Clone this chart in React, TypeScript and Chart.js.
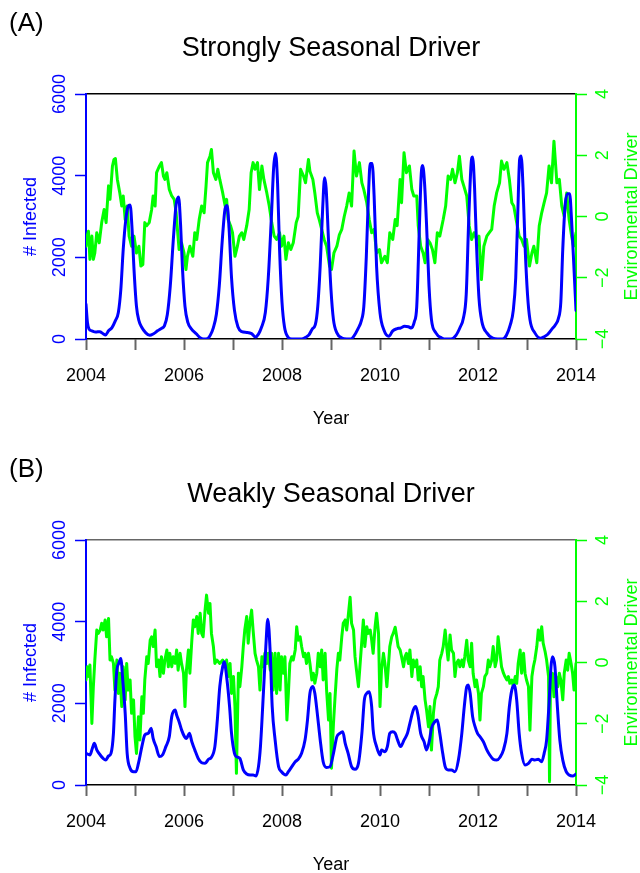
import React, { useEffect, useRef } from "react";
import { Chart, registerables } from "chart.js";

Chart.register(...registerables);

const FONT = '"Liberation Sans", Arial, Helvetica, sans-serif';
const BLUE = "#0000ff";
const GREEN = "#00ff00";

// ---- axis ticks / labels ----
const yearTicks = [2004, 2005, 2006, 2007, 2008, 2009, 2010, 2011, 2012, 2013, 2014];
const yearLabels = ["2004", "", "2006", "", "2008", "", "2010", "", "2012", "", "2014"];
const infectedTicks = [0, 2000, 4000, 6000];
const infectedLabels = ["0", "2000", "4000", "6000"];
const driverTicks = [-4, -2, 0, 2, 4];
const driverLabels = ["\u22124", "\u22122", "0", "2", "4"];

const xTitle = "Year";
const leftTitle = "# Infected";
const rightTitle = "Environmental Driver";
const panelLabels = ["(A)", "(B)"];
const panelTitles = ["Strongly Seasonal Driver", "Weakly Seasonal Driver"];

// ---- Panel A: strongly seasonal ----
const strongInfYears = [
  2004.0, 2004.03, 2004.06, 2004.12, 2004.2, 2004.28, 2004.35, 2004.4, 2004.46, 2004.53, 2004.6, 2004.66, 2004.71, 2004.76, 2004.81, 2004.86, 2004.9, 2004.94, 2004.98,
  2005.03, 2005.08, 2005.14, 2005.22, 2005.3, 2005.38, 2005.46, 2005.54, 2005.6, 2005.66, 2005.72, 2005.78, 2005.84, 2005.89, 2005.93, 2005.97,
  2006.02, 2006.08, 2006.15, 2006.25, 2006.32, 2006.4, 2006.48, 2006.54, 2006.6, 2006.66, 2006.72, 2006.78, 2006.84, 2006.88, 2006.92, 2006.97,
  2007.03, 2007.1, 2007.18, 2007.28, 2007.38, 2007.46, 2007.52, 2007.58, 2007.66, 2007.72, 2007.78, 2007.83, 2007.87, 2007.91, 2007.95,
  2008.0, 2008.05, 2008.12, 2008.2, 2008.3, 2008.4, 2008.48, 2008.55, 2008.62, 2008.68, 2008.73, 2008.78, 2008.83, 2008.87, 2008.9, 2008.95,
  2009.0, 2009.05, 2009.12, 2009.22, 2009.32, 2009.4, 2009.46, 2009.55, 2009.62, 2009.67, 2009.72, 2009.77, 2009.8, 2009.84, 2009.88, 2009.93,
  2010.0, 2010.08, 2010.18, 2010.26, 2010.34, 2010.42, 2010.5, 2010.58, 2010.64, 2010.7, 2010.75, 2010.8, 2010.84, 2010.87, 2010.91, 2010.95,
  2011.0, 2011.05, 2011.14, 2011.26, 2011.35, 2011.45, 2011.55, 2011.64, 2011.7, 2011.76, 2011.81, 2011.86, 2011.89, 2011.93, 2011.97,
  2012.02, 2012.08, 2012.18, 2012.3, 2012.4, 2012.5, 2012.58, 2012.66, 2012.72, 2012.77, 2012.81, 2012.85, 2012.88, 2012.92, 2012.96,
  2013.01, 2013.06, 2013.16, 2013.28, 2013.36, 2013.42, 2013.5, 2013.58, 2013.64, 2013.69, 2013.73, 2013.78, 2013.83, 2013.87, 2013.91, 2013.96, 2014.0,
];
const strongInfValues = [
  850, 400, 250, 200, 170, 180, 130, 100, 200, 280, 450, 650, 1200, 2200, 2900, 3250, 3280, 2700, 1700,
  800, 450, 280, 150, 90, 130, 200, 260, 320, 600, 1300, 2400, 3300, 3480, 2800, 1700,
  800, 400, 250, 130, 40, 0, 10, 100, 280, 600, 1300, 2400, 3200, 3270, 2700, 1500,
  700, 300, 180, 160, 130, 50, 120, 280, 650, 1500, 2900, 4200, 4550, 3800, 2200,
  900, 300, 50, 0, 0, 0, 40, 100, 250, 350, 800, 1800, 3200, 3950, 3700, 2400,
  1200, 475, 150, 25, 0, 0, 60, 250, 450, 800, 2000, 3700, 4300, 4300, 3500, 1780,
  640, 220, 65, 200, 250, 270, 310, 300, 270, 420, 800, 2600, 4000, 4250, 3800, 2800,
  1300, 475, 150, 25, 0, 0, 90, 300, 500, 1100, 2900, 4300, 4460, 3700, 2300,
  1000, 420, 150, 20, 0, 0, 90, 350, 700, 1500, 3000, 4400, 4480, 3700, 2300,
  1100, 475, 150, 20, 60, 110, 230, 350, 500, 900, 2200, 3300, 3560, 3560, 2900, 1700, 700,
];

const strongDrvYears = [
  2004.0, 2004.03, 2004.05, 2004.08, 2004.12, 2004.15, 2004.18, 2004.22, 2004.27, 2004.32, 2004.37, 2004.41, 2004.46, 2004.49, 2004.54, 2004.57, 2004.6, 2004.64, 2004.69, 2004.73, 2004.76, 2004.8, 2004.84, 2004.88, 2004.93, 2004.98,
  2005.03, 2005.08, 2005.12, 2005.16, 2005.2, 2005.24, 2005.29, 2005.34, 2005.37, 2005.41, 2005.44, 2005.5, 2005.54, 2005.58, 2005.61, 2005.65, 2005.7, 2005.75, 2005.8, 2005.84, 2005.86, 2005.9, 2005.95,
  2006.0, 2006.04, 2006.07, 2006.12, 2006.18, 2006.22, 2006.26, 2006.31, 2006.36, 2006.41, 2006.45, 2006.48, 2006.53, 2006.56, 2006.6, 2006.65, 2006.69, 2006.73, 2006.79, 2006.84, 2006.87, 2006.9, 2006.95, 2006.99,
  2007.04, 2007.09, 2007.13, 2007.18, 2007.22, 2007.28, 2007.33, 2007.37, 2007.41, 2007.45, 2007.5, 2007.54, 2007.59, 2007.63, 2007.69, 2007.74, 2007.79, 2007.84, 2007.89, 2007.95, 2007.99,
  2008.04, 2008.08, 2008.13, 2008.18, 2008.23, 2008.29, 2008.33, 2008.38, 2008.44, 2008.48, 2008.54, 2008.57, 2008.63, 2008.67, 2008.72, 2008.76, 2008.81, 2008.86, 2008.91, 2008.97,
  2009.01, 2009.06, 2009.12, 2009.17, 2009.22, 2009.27, 2009.32, 2009.37, 2009.42, 2009.47, 2009.52, 2009.58, 2009.63, 2009.67, 2009.73, 2009.78, 2009.83, 2009.88, 2009.93, 2009.99,
  2010.03, 2010.1, 2010.15, 2010.2, 2010.26, 2010.31, 2010.35, 2010.41, 2010.44, 2010.49, 2010.54, 2010.6, 2010.65, 2010.69, 2010.75, 2010.78, 2010.83, 2010.88, 2010.92, 2010.97,
  2011.02, 2011.07, 2011.12, 2011.17, 2011.22, 2011.29, 2011.34, 2011.39, 2011.44, 2011.48, 2011.53, 2011.58, 2011.62, 2011.67, 2011.71, 2011.77, 2011.82, 2011.87, 2011.92, 2011.97,
  2012.02, 2012.07, 2012.12, 2012.18, 2012.23, 2012.28, 2012.33, 2012.38, 2012.44, 2012.48, 2012.53, 2012.59, 2012.64, 2012.69, 2012.73, 2012.79, 2012.84, 2012.89, 2012.94, 2012.99,
  2013.05, 2013.1, 2013.14, 2013.2, 2013.25, 2013.3, 2013.35, 2013.4, 2013.45, 2013.5, 2013.55, 2013.61, 2013.66, 2013.71, 2013.76, 2013.81, 2013.86, 2013.91, 2013.95, 2014.0,
];
const strongDrvValues = [
  -0.97, -0.6, -0.48, -1.4, -0.64, -1.4, -1.19, -0.53, -0.86, -0.2, 0.23, -0.2, 1.0, 0.56, 1.65, 1.86, 1.89, 1.21, 0.77, 0.34, 0.67, -0.1, 0.34, -0.64, -0.97, -0.64,
  -1.19, -0.97, -1.62, -1.57, -0.2, -0.3, -0.2, 0.23, 0.67, 0.34, 1.43, 1.65, 1.76, 1.32, 1.21, 1.43, 0.88, 0.67, 0.56, 0.12, -0.3, -1.08, -0.86,
  -1.19, -1.73, -1.3, -0.97, -1.3, -0.53, -0.75, -0.1, 0.34, 0.12, 1.0, 1.76, 1.97, 2.19, 1.43, 1.21, 1.54, 1.21, 0.77, 0.34, 0.56, -0.1, -0.3, -0.53,
  -1.3, -0.97, -0.64, -0.53, -0.75, -0.3, 0.23, 1.43, 1.76, 1.54, 1.76, 0.88, 1.65, 1.21, 0.77, 0.34, -0.2, -0.64, -0.75, -0.53, -0.97,
  -0.64, -1.4, -0.86, -1.08, -0.86, -0.2, 0.0, 1.54, 1.32, 1.1, 1.86, 1.48, 1.21, 0.77, 0.12, -0.1, -0.42, -0.75, -0.97, -1.62,
  -1.73, -1.19, -0.97, -0.6, -0.42, 0.0, 0.34, 0.77, 0.34, 2.14, 1.32, 1.76, 1.1, 0.88, 0.45, -0.1, -0.53, -0.42, -1.19, -1.08,
  -1.51, -1.3, -1.51, -0.53, -0.75, -0.1, -0.3, 1.21, 0.45, 2.08, 1.43, 1.65, 0.88, 0.67, 0.67, -0.3, -0.97, -1.19, -1.51, -0.75,
  -0.86, -1.08, -1.51, -0.53, -0.64, -0.1, 0.34, 1.32, 1.21, 1.54, 1.1, 1.43, 1.97, 1.21, 1.0, 0.67, -0.3, -0.75, -0.53, -0.75,
  -0.64, -2.06, -0.97, -0.64, -0.53, -0.42, 0.34, 0.77, 1.1, 1.81, 1.54, 1.76, 1.21, 0.45, 0.34, -0.2, -0.64, -0.75, -0.97, -0.75,
  -1.62, -1.19, -0.97, -1.51, -0.3, 0.12, 0.45, 0.77, 1.65, 1.1, 2.46, 1.1, 1.21, 0.34, 0.0, 0.77, -0.1, -0.64, -0.97, -0.53,
];

// ---- Panel B: weakly seasonal ----
const weakInfYears = [
  2004.0, 2004.08, 2004.13, 2004.17, 2004.22, 2004.29, 2004.35, 2004.4, 2004.46, 2004.51, 2004.56, 2004.59, 2004.63, 2004.67, 2004.71, 2004.75, 2004.8, 2004.84, 2004.9, 2004.97,
  2005.02, 2005.07, 2005.14, 2005.2, 2005.27, 2005.33, 2005.37, 2005.43, 2005.5, 2005.56, 2005.63, 2005.7, 2005.75, 2005.82, 2005.85, 2005.9, 2005.95,
  2006.01, 2006.05, 2006.11, 2006.16, 2006.22, 2006.29, 2006.36, 2006.43, 2006.5, 2006.56, 2006.63, 2006.68, 2006.73, 2006.79, 2006.82, 2006.87, 2006.93, 2006.97,
  2007.03, 2007.07, 2007.14, 2007.21, 2007.28, 2007.35, 2007.41, 2007.47, 2007.52, 2007.56, 2007.62, 2007.67, 2007.71, 2007.76, 2007.8, 2007.86, 2007.93, 2007.99,
  2008.08, 2008.13, 2008.2, 2008.27, 2008.33, 2008.4, 2008.47, 2008.52, 2008.57, 2008.63, 2008.67, 2008.72, 2008.78, 2008.84, 2008.91, 2008.98,
  2009.05, 2009.12, 2009.18, 2009.24, 2009.29, 2009.35, 2009.42, 2009.49, 2009.56, 2009.63, 2009.68, 2009.73, 2009.78, 2009.83, 2009.86, 2009.93,
  2010.0, 2010.03, 2010.1, 2010.15, 2010.2, 2010.26, 2010.31, 2010.36, 2010.42, 2010.49, 2010.56, 2010.61, 2010.68, 2010.73, 2010.78, 2010.83, 2010.9, 2010.95,
  2011.01, 2011.05, 2011.12, 2011.17, 2011.22, 2011.28, 2011.33, 2011.39, 2011.46, 2011.53, 2011.6, 2011.67, 2011.72, 2011.77, 2011.8, 2011.84, 2011.89, 2011.94, 2011.99,
  2012.04, 2012.11, 2012.18, 2012.24, 2012.31, 2012.38, 2012.45, 2012.52, 2012.59, 2012.64, 2012.69, 2012.74, 2012.79, 2012.84, 2012.89, 2012.96,
  2013.03, 2013.1, 2013.16, 2013.23, 2013.3, 2013.35, 2013.4, 2013.45, 2013.49, 2013.52, 2013.57, 2013.62, 2013.67, 2013.73, 2013.8, 2013.86, 2013.93, 2014.0,
];
const weakInfValues = [
  775, 735, 900, 1020, 860, 735, 650, 610, 710, 775, 1265, 2080, 2815, 2980, 3100, 2570, 1755, 775, 410, 325,
  325, 530, 940, 1225, 1265, 1390, 1140, 940, 695, 735, 940, 1185, 1675, 1835, 1715, 1550, 1350,
  1185, 1140, 1265, 1060, 860, 650, 545, 530, 630, 680, 940, 1590, 2410, 2900, 3020, 2650, 1920, 1265,
  775, 695, 650, 370, 270, 245, 245, 220, 450, 940, 2245, 3390, 4060, 3225, 1920, 1100, 450, 325,
  245, 325, 450, 570, 630, 775, 1100, 1590, 2245, 2410, 2245, 1755, 1100, 570, 430, 450,
  775, 1185, 1265, 1305, 1020, 775, 450, 385, 530, 1265, 2080, 2245, 2285, 1920, 1350, 940,
  735, 860, 815, 940, 1265, 1305, 1265, 1100, 940, 1100, 1265, 1510, 1835, 1920, 1675, 1265, 1060, 860,
  1100, 1390, 1550, 1590, 1265, 775, 450, 370, 370, 325, 610, 1265, 1920, 2410, 2450, 2245, 1675, 1430, 1265,
  1185, 1060, 860, 735, 630, 610, 680, 860, 1265, 1920, 2325, 2450, 2080, 1265, 775, 490,
  530, 630, 610, 630, 570, 775, 1100, 2000, 2900, 3140, 2900, 1920, 1100, 610, 325, 245, 220, 270,
];

const weakDrvYears = [
  2004.0, 2004.03, 2004.06, 2004.08, 2004.12, 2004.15, 2004.18, 2004.22, 2004.25, 2004.29, 2004.32, 2004.35, 2004.39, 2004.42, 2004.46, 2004.49, 2004.52, 2004.56, 2004.59, 2004.63, 2004.66, 2004.69, 2004.73, 2004.76, 2004.8, 2004.83, 2004.86, 2004.9, 2004.93, 2004.97,
  2005.0, 2005.03, 2005.07, 2005.1, 2005.14, 2005.17, 2005.2, 2005.24, 2005.27, 2005.31, 2005.34, 2005.37, 2005.41, 2005.44, 2005.48, 2005.51, 2005.54, 2005.58, 2005.61, 2005.65, 2005.68, 2005.71, 2005.75, 2005.78, 2005.82, 2005.85, 2005.88, 2005.92, 2005.95, 2005.99,
  2006.02, 2006.05, 2006.09, 2006.12, 2006.16, 2006.19, 2006.22, 2006.26, 2006.29, 2006.33, 2006.36, 2006.39, 2006.43, 2006.46, 2006.5, 2006.53, 2006.56, 2006.6, 2006.63, 2006.67, 2006.73, 2006.79, 2006.84, 2006.87, 2006.9, 2006.94, 2006.97,
  2007.01, 2007.04, 2007.07, 2007.11, 2007.14, 2007.18, 2007.21, 2007.24, 2007.28, 2007.31, 2007.35, 2007.38, 2007.41, 2007.45, 2007.48, 2007.52, 2007.55, 2007.59, 2007.62, 2007.65, 2007.69, 2007.72, 2007.76, 2007.79, 2007.82, 2007.86, 2007.89, 2007.93, 2007.96, 2007.99,
  2008.03, 2008.06, 2008.1, 2008.13, 2008.16, 2008.2, 2008.23, 2008.27, 2008.3, 2008.33, 2008.37, 2008.4, 2008.44, 2008.47, 2008.5, 2008.54, 2008.57, 2008.61, 2008.64, 2008.67, 2008.71, 2008.74, 2008.78, 2008.81, 2008.84, 2008.88, 2008.91, 2008.95, 2008.98,
  2009.01, 2009.05, 2009.08, 2009.12, 2009.15, 2009.18, 2009.22, 2009.25, 2009.29, 2009.32, 2009.35, 2009.39, 2009.42, 2009.46, 2009.49, 2009.52, 2009.56, 2009.59, 2009.63, 2009.66, 2009.69, 2009.73, 2009.76, 2009.8, 2009.83, 2009.86, 2009.9, 2009.93, 2009.97,
  2010.0, 2010.03, 2010.07, 2010.1, 2010.14, 2010.17, 2010.2, 2010.24, 2010.27, 2010.31, 2010.34, 2010.37, 2010.41, 2010.44, 2010.48, 2010.51, 2010.54, 2010.58, 2010.61, 2010.65, 2010.68, 2010.71, 2010.75, 2010.78, 2010.82, 2010.85, 2010.88, 2010.92, 2010.95, 2010.99,
  2011.02, 2011.05, 2011.09, 2011.12, 2011.16, 2011.19, 2011.22, 2011.26, 2011.29, 2011.33, 2011.36, 2011.39, 2011.43, 2011.46, 2011.5, 2011.53, 2011.56, 2011.6, 2011.63, 2011.67, 2011.7, 2011.73, 2011.77, 2011.8, 2011.84, 2011.87, 2011.9, 2011.94, 2011.97,
  2012.01, 2012.04, 2012.07, 2012.11, 2012.14, 2012.18, 2012.21, 2012.24, 2012.28, 2012.31, 2012.35, 2012.38, 2012.41, 2012.45, 2012.48, 2012.52, 2012.55, 2012.59, 2012.62, 2012.65, 2012.69, 2012.72, 2012.76, 2012.79, 2012.82, 2012.86, 2012.89, 2012.93, 2012.96, 2012.99,
  2013.03, 2013.06, 2013.1, 2013.13, 2013.16, 2013.2, 2013.23, 2013.27, 2013.3, 2013.33, 2013.37, 2013.4, 2013.44, 2013.46, 2013.48, 2013.52, 2013.55, 2013.59, 2013.63, 2013.66, 2013.69, 2013.73, 2013.76, 2013.8, 2013.83, 2013.86, 2013.9, 2013.93, 2013.96, 2014.0,
];
const weakDrvValues = [
  -0.57, -0.14, -0.46, -0.08, -1.99, -0.79, 0.08, 1.06, 0.95, 1.06, 1.28, 1.06, 1.39, 0.84, 1.44, 0.08, 0.19, -0.03, -0.9, 0.08, -1.01, -0.35, -1.44, -0.14, -1.22, -0.03, -0.9, -0.57, -1.66, -1.22,
  -2.42, -2.97, -1.77, -2.53, -1.12, -1.66, -0.57, 0.19, -0.03, 0.73, 0.84, 0.52, 1.06, -0.14, 0.08, -0.46, 0.19, -0.35, 0.08, 0.41, -0.14, 0.3, -0.14, 0.19, -0.03, 0.41, -0.25, 0.3, -0.03, -0.35,
  -1.44, -0.25, 0.41, -0.35, 0.73, 1.39, 1.17, 1.5, 0.95, 1.61, 0.95, 0.84, 1.71, 2.2, 1.61, 1.93, 0.95, 0.52, -0.03, 0.08, -0.03, 0.08, -0.14, 0.08, -0.46, -0.03, -1.01,
  -0.46, -1.44, -3.62, -0.35, -0.79, -0.14, 0.52, 1.06, 1.5, 0.63, 1.39, 1.71, 1.06, 0.3, 0.08, -0.14, -0.9, 0.19, -0.14, 0.3, -0.03, 0.3, -0.25, 0.3, -0.9, 0.3, -1.01, 0.3, -0.9, 0.19,
  -0.35, 0.19, -1.88, -1.01, -0.03, 0.19, 0.08, 0.41, 1.17, 0.73, 0.84, 0.52, 0.19, 0.3, -0.03, 0.3, -0.03, -0.57, -0.35, -0.68, -0.35, 0.3, -0.14, 0.41, -0.57, 0.3, -0.9, -1.88, -1.01,
  -3.45, -2.0, -1.2, -0.2, 0.3, 0.08, 0.84, 1.28, 1.39, 1.06, 1.5, 2.13, 1.28, 1.06, 0.19, -0.25, -0.79, -0.14, 0.73, 1.39, 0.52, 1.17, 0.95, 1.06, 0.73, 0.3, 1.17, 1.61, 0.95,
  -1.44, -0.25, 0.3, -0.03, -0.79, -0.14, 0.52, 0.84, 0.95, 1.15, 0.84, 0.52, 0.41, 0.19, -0.14, 0.19, 0.3, -0.03, 0.41, -0.46, 0.08, -0.14, 0.08, -0.57, -0.14, -0.79, -0.46, -1.22, -1.55, -2.1,
  -1.44, -2.86, -1.66, -1.22, -1.01, -0.79, 0.08, 0.3, 0.52, 1.06, 0.52, 0.08, 0.9, 0.41, 0.3, -0.46, -0.03, 0.08, -0.14, 0.08, -0.14, 0.19, 0.73, 0.08, -0.14, 0.63, -0.35, -0.79, -0.57,
  -1.01, -1.88, -1.01, -0.79, -0.46, -0.35, 0.08, -0.14, 0.08, 0.52, -0.14, 0.08, 0.84, 0.3, -0.14, -0.35, -0.46, -0.57, -0.46, -0.68, -0.57, -0.79, -0.46, -0.68, -0.03, 0.41, -0.35, 0.3, -0.35, -0.57,
  -0.79, -2.21, -0.46, -0.14, 0.08, 0.52, 1.06, 0.73, 1.17, 0.63, 0.35, 0.08, -0.46, -3.89, -0.46, -0.35, -1.12, -0.46, -0.79, -0.35, -0.57, -1.22, -0.35, 0.08, -0.25, 0.3, -0.03, -0.35, -0.9, -0.03,
];

function zip(xs: number[], ys: number[]) {
  return xs.map((x, i) => ({ x, y: ys[i] }));
}

const textPlugin = {
  id: "panelText",
  afterDraw(chart: any, _args: any, opts: any) {
    const ctx = chart.ctx as CanvasRenderingContext2D;
    const area = chart.chartArea;
    const yL = chart.scales.y;
    const yR = chart.scales.y2;
    const midX = (area.left + area.right) / 2;
    const midY = (area.top + area.bottom) / 2;
    ctx.save();
    ctx.fillStyle = "#000";
    ctx.textBaseline = "alphabetic";
    ctx.font = `26px ${FONT}`;
    ctx.textAlign = "left";
    ctx.fillText(opts.label, 9, 31);
    ctx.font = `27px ${FONT}`;
    ctx.textAlign = "center";
    ctx.fillText(opts.title, midX, 56);

    ctx.font = `18px ${FONT}`;
    ctx.textBaseline = "middle";
    ctx.fillText(xTitle, midX, area.bottom + 80);

    const rot = (text: string, x: number, y: number, color: string) => {
      ctx.save();
      ctx.translate(x, y);
      ctx.rotate(-Math.PI / 2);
      ctx.fillStyle = color;
      ctx.textAlign = "center";
      ctx.textBaseline = "middle";
      ctx.fillText(text, 0, 0);
      ctx.restore();
    };
    infectedTicks.forEach((v, i) => rot(infectedLabels[i], area.left - 26, yL.getPixelForValue(v), BLUE));
    rot(leftTitle, area.left - 55, midY, BLUE);
    driverTicks.forEach((v, i) => rot(driverLabels[i], area.right + 27, yR.getPixelForValue(v), GREEN));
    rot(rightTitle, area.right + 56, midY, GREEN);
    ctx.restore();
  },
};

function makeConfig(panel: number, height: number, inf: { x: number; y: number }[], drv: { x: number; y: number }[], topColor: string): any {
  return {
    type: "line",
    data: {
      datasets: [
        {
          label: leftTitle,
          data: inf,
          xAxisID: "x",
          yAxisID: "y",
          borderColor: BLUE,
          borderWidth: 3,
          pointRadius: 0,
          cubicInterpolationMode: "monotone",
          borderJoinStyle: "round",
          borderCapStyle: "round",
          order: 0,
        },
        {
          label: rightTitle,
          data: drv,
          xAxisID: "x",
          yAxisID: "y2",
          borderColor: GREEN,
          borderWidth: 3,
          pointRadius: 0,
          tension: 0,
          borderJoinStyle: "round",
          borderCapStyle: "round",
          order: 1,
        },
      ],
    },
    options: {
      responsive: false,
      animation: false,
      events: [],
      layout: { padding: { top: 94, left: 0, right: 0, bottom: 0 } },
      plugins: {
        legend: { display: false },
        tooltip: { enabled: false },
        title: { display: false },
        panelText: { label: panelLabels[panel], title: panelTitles[panel] },
      },
      scales: {
        x: {
          type: "linear",
          position: "bottom",
          min: 2004,
          max: 2014,
          afterBuildTicks: (s: any) => {
            s.ticks = yearTicks.map((v) => ({ value: v }));
          },
          ticks: {
            autoSkip: false,
            maxRotation: 0,
            minRotation: 0,
            padding: 15,
            color: "#000",
            font: { family: FONT, size: 18 },
            callback: (_v: any, i: number) => yearLabels[i],
          },
          grid: { drawOnChartArea: false, drawTicks: true, tickLength: 11, tickColor: "#666666", tickWidth: 2 },
          border: { display: true, color: "#000", width: 1.5 },
          afterFit: (s: any) => {
            s.height = height - 339;
          },
        },
        xTop: {
          type: "linear",
          position: "top",
          min: 2004,
          max: 2014,
          ticks: { display: false },
          grid: { drawOnChartArea: false, drawTicks: false },
          border: { display: true, color: topColor, width: 1.5 },
          afterFit: (s: any) => {
            s.height = 0;
          },
        },
        y: {
          type: "linear",
          position: "left",
          min: 0,
          max: 6000,
          afterBuildTicks: (s: any) => {
            s.ticks = infectedTicks.map((v) => ({ value: v }));
          },
          ticks: { display: false },
          grid: { drawOnChartArea: false, drawTicks: true, tickLength: 11, tickColor: BLUE, tickWidth: 1.5 },
          border: { display: true, color: BLUE, width: 2 },
          afterFit: (s: any) => {
            s.width = 86;
          },
        },
        y2: {
          type: "linear",
          position: "right",
          min: -4,
          max: 4,
          afterBuildTicks: (s: any) => {
            s.ticks = driverTicks.map((v) => ({ value: v }));
          },
          ticks: { display: false },
          grid: { drawOnChartArea: false, drawTicks: true, tickLength: 11, tickColor: GREEN, tickWidth: 1.5 },
          border: { display: true, color: GREEN, width: 2 },
          afterFit: (s: any) => {
            s.width = 64;
          },
        },
      },
    },
    plugins: [textPlugin],
  };
}

const H_A = 446;
const H_B = 427;

export default function App() {
  const refA = useRef<HTMLCanvasElement | null>(null);
  const refB = useRef<HTMLCanvasElement | null>(null);

  useEffect(() => {
    document.body.style.margin = "0";
    const a = new Chart(refA.current as HTMLCanvasElement, makeConfig(0, H_A, zip(strongInfYears, strongInfValues), zip(strongDrvYears, strongDrvValues), "#000"));
    const b = new Chart(refB.current as HTMLCanvasElement, makeConfig(1, H_B, zip(weakInfYears, weakInfValues), zip(weakDrvYears, weakDrvValues), "#666666"));
    return () => {
      a.destroy();
      b.destroy();
    };
  }, []);

  return (
    <div style={{ position: "absolute", left: 0, top: 0, width: 640, height: 873, background: "#fff" }}>
      <canvas ref={refA} width={640} height={H_A} style={{ display: "block", width: 640, height: H_A }} />
      <canvas ref={refB} width={640} height={H_B} style={{ display: "block", width: 640, height: H_B }} />
    </div>
  );
}
